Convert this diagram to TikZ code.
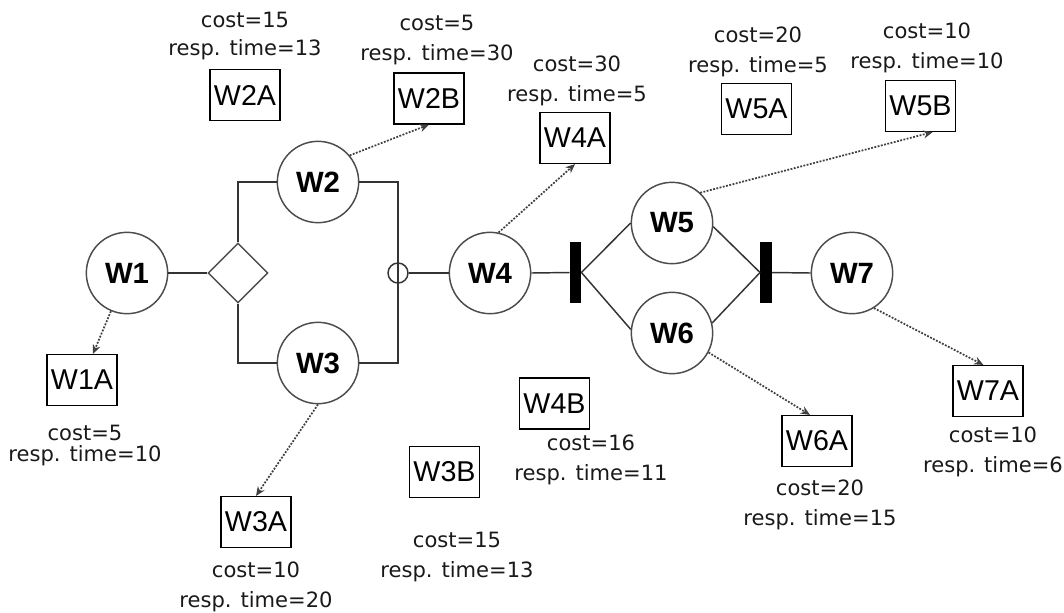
\documentclass[tikz,border=0pt]{standalone}
\usepackage{fontspec}
\setmainfont{Liberation Sans}
\newfontfamily\labfont{DejaVu Sans}
\usetikzlibrary{shapes.geometric,arrows.meta}
\begin{document}
\begin{tikzpicture}[x=0.75pt,y=-0.75pt,
  act/.style={circle,draw=black!70,line width=1.1pt,minimum size=61pt,inner sep=0pt,font=\fontsize{22}{24}\selectfont\bfseries},
  svc/.style={rectangle,draw=black,line width=1.1pt,minimum width=52.5pt,minimum height=38pt,inner sep=0pt,font=\fontsize{21.5}{24}\selectfont},
  lab/.style={anchor=base,align=center,inner sep=0pt,text=black!90,font=\labfont\fontsize{15.8}{22.5}\selectfont},
  ln/.style={draw=black!80,line width=1.1pt},
  dep/.style={draw=black!75,line width=1.3pt,dash pattern=on 1.4pt off 1.1pt,-{Stealth[length=7pt,width=6pt]}},
  bar/.style={rectangle,fill=black,minimum width=8.5pt,minimum height=46pt,inner sep=0pt}]
\useasboundingbox (0,0) rectangle (1064,612);
% activities
\node[act] (W1) at (127,273) {W1};
\node[diamond,draw=black!70,line width=1.1pt,minimum width=45pt,minimum height=45pt,inner sep=0pt] (D) at (238,273) {};
\node[act] (W2) at (318,182) {W2};
\node[act] (W3) at (318,363) {W3};
\node[circle,draw=black!80,line width=1.1pt,minimum size=15pt,inner sep=0pt] (J) at (398,273) {};
\node[act] (W4) at (490,273) {W4};
\node[bar] (B1) at (575.5,272.5) {};
\node[act] (W5) at (672,223) {W5};
\node[act] (W6) at (672,333) {W6};
\node[bar] (B2) at (766,272.5) {};
\node[act] (W7) at (852,273) {W7};
% control flow
\draw[ln] (W1.east) -- (D.west);
\draw[ln] (D.north) |- (W2.west);
\draw[ln] (D.south) |- (W3.west);
\draw[ln] (W2.east) -| (J.center) |- (W3.east);
\draw[ln] (J.east) -- (W4.west);
\draw[ln] (W4.east) -- (B1.west);
\draw[ln] (B1.east) -- (W5.west);
\draw[ln] (B1.east) -- (W6.175);
\draw[ln] (W5.-5) -- (B2.west);
\draw[ln] (W6.14) -- (B2.west);
\draw[ln] (B2.east) -- (W7.west);
% services
\node[svc] (W1A) at (82,380) {W1A};
\node[svc] (W2A) at (245,95) {W2A};
\node[svc] (W2B) at (429,98.5) {W2B};
\node[svc] (W3A) at (256,522) {W3A};
\node[svc] (W3B) at (444.5,472) {W3B};
\node[svc] (W4A) at (575,138) {W4A};
\node[svc] (W4B) at (554.5,403.5) {W4B};
\node[svc] (W5A) at (756.5,109) {W5A};
\node[svc] (W5B) at (920.5,106) {W5B};
\node[svc] (W6A) at (817,441) {W6A};
\node[svc] (W7A) at (988,391) {W7A};
% bindings
\draw[dep] (W1) -- (W1A);
\draw[dep] (W2.40) -- (W2B.south);
\draw[dep] (W3.south) -- (W3A.north);
\draw[dep] (W4.78) -- (W4A.south);
\draw[dep] (W5.47) -- (W5B.-65);
\draw[dep] (W6.-28) -- (W6A.105);
\draw[dep] (W7.-58) -- (W7A.100);
% labels (anchor = baseline of the last line)
\node[lab] (L2A) at (245,55) {cost=15\\[-1.5pt]resp. time=13};
\node[lab] (L2B) at (437,60) {cost=5\\resp. time=30};
\node[lab] (L4A) at (577,101.8) {cost=30\\resp. time=5};
\node[lab] (L5A) at (758,72) {cost=20\\resp. time=5};
\node[lab] (L5B) at (927,68) {cost=10\\resp. time=10};
\node[lab] (L1A) at (85,461.5) {cost=5\\[-6.75pt]resp. time=10};
\node[lab] (L3A) at (256,607.5) {cost=10\\resp. time=20};
\node[lab] (L3B) at (457,577.5) {cost=15\\resp. time=13};
\node[lab] (L4B) at (591,480.8) {cost=16\\resp. time=11};
\node[lab] (L6A) at (820,525) {cost=20\\resp. time=15};
\node[lab] (L7A) at (993,472.3) {cost=10\\resp. time=6};
\end{tikzpicture}
\end{document}
